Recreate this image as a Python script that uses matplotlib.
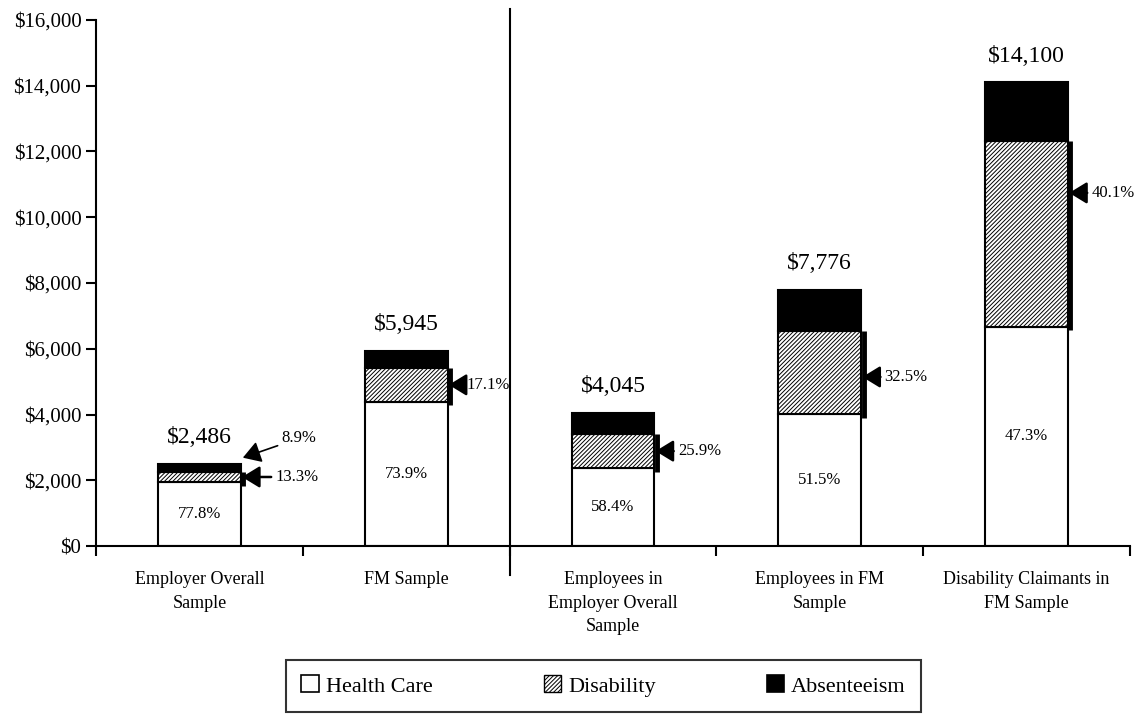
import numpy as np
import matplotlib.pyplot as plt
from matplotlib.patches import Patch
from matplotlib.ticker import FuncFormatter

# serif font close to the Times look of the original
plt.rcParams['font.family'] = ['Liberation Serif', 'DejaVu Serif']
plt.rcParams['hatch.linewidth'] = 0.7

categories = ['Employer Overall\nSample', 'FM Sample',
              'Employees in\nEmployer Overall\nSample',
              'Employees in FM\nSample',
              'Disability Claimants in\nFM Sample']
totals = [2486, 5945, 4045, 7776, 14100]
health_pct = [77.8, 73.9, 58.4, 51.5, 47.3]
disab_pct = [13.3, 17.1, 25.9, 32.5, 40.1]
absent_pct = [8.9, 9.0, 15.7, 16.0, 12.6]

totals = np.array(totals, dtype=float)
health = totals * np.array(health_pct) / 100
disab = totals * np.array(disab_pct) / 100
absent = totals - health - disab

x = np.arange(len(categories))
w = 0.4

fig = plt.figure(figsize=(11.43, 7.19), dpi=100)
ax = fig.add_axes([0.084, 0.2406, 0.9046, 0.7316])

ax.bar(x, health, w, color='white', edgecolor='black', lw=1.5)
ax.bar(x, disab, w, bottom=health, color='white', edgecolor='black', lw=1.5, hatch='////////')
ax.bar(x, absent, w, bottom=health + disab, color='black', edgecolor='black', lw=1.5)

# health care share inside the white part, total above the bar
for i in x:
    ax.text(i, health[i] / 2, f'{health_pct[i]}%', ha='center', va='center', fontsize=12)
    ax.annotate(f'${int(totals[i]):,}', (i, totals[i]), xytext=(0, 19),
                textcoords='offset points', ha='center', va='center', fontsize=17)

# brackets + arrows for the disability share
arrow_dx = [24, 13, 16, 16, 16]
arrow_frac = [0.5, 0.5, 0.5, 0.45, 0.72]
for i in x:
    xe = i + w / 2
    ax.plot([xe + 0.012, xe + 0.012], [health[i] - 100, health[i] + disab[i]],
            color='black', lw=3.5, solid_capstyle='butt')
    ya = health[i] + disab[i] * arrow_frac[i]
    ax.annotate(f'{disab_pct[i]}%', (xe + 0.006, ya), xytext=(arrow_dx[i], 0),
                textcoords='offset points', ha='left', va='center', fontsize=12,
                arrowprops=dict(arrowstyle='-|>,head_length=0.9,head_width=0.55',
                                color='black', lw=1.8, shrinkA=1, shrinkB=0))

# absenteeism share only called out on the first bar
ax.annotate(f'{absent_pct[0]}%', (w / 2 + 0.01, totals[0] + 200), xytext=(28, 14),
            textcoords='offset points', ha='left', va='center', fontsize=12,
            arrowprops=dict(arrowstyle='-|>,head_length=0.9,head_width=0.55',
                            color='black', lw=1.2, shrinkA=1, shrinkB=0))

ax.set_xlim(-0.5, 4.5)
ax.set_ylim(0, 16000)
ax.set_yticks(np.arange(0, 16001, 2000))
ax.yaxis.set_major_formatter(FuncFormatter(lambda v, p: f'${int(v):,}'))
ax.set_xticks(np.arange(-0.5, 4.6, 1))
ax.set_xticklabels([])
ax.set_xticks(x, minor=True)
ax.set_xticklabels(categories, minor=True, fontsize=13, linespacing=1.5)
ax.tick_params(axis='x', which='minor', length=0, pad=18)
ax.tick_params(axis='both', which='major', direction='out', length=7, width=1.5, labelsize=15)
ax.spines['top'].set_visible(False)
ax.spines['right'].set_visible(False)
ax.spines['left'].set_linewidth(1.5)
ax.spines['bottom'].set_linewidth(1.5)

# divider between sample-level and employee-level bars
ax.plot([1.5, 1.5], [-0.055, 1.02], color='black', lw=1.5,
        transform=ax.get_xaxis_transform(), clip_on=False)

handles = [Patch(facecolor='white', edgecolor='black', lw=1.2),
           Patch(facecolor='white', edgecolor='black', lw=1.0, hatch='////////'),
           Patch(facecolor='black', edgecolor='black', lw=1.2)]
leg = fig.legend(handles, ['Health Care', 'Disability', 'Absenteeism'], ncol=3,
                 loc='center', bbox_to_anchor=(0.528, 0.046), fontsize=16,
                 handlelength=0.8, handleheight=0.8, handletextpad=0.3,
                 columnspacing=5.0, fancybox=False, borderpad=0.7, borderaxespad=0)
leg.get_frame().set_edgecolor('black')
leg.get_frame().set_linewidth(1.5)

fig.savefig('out.png', dpi=100)
